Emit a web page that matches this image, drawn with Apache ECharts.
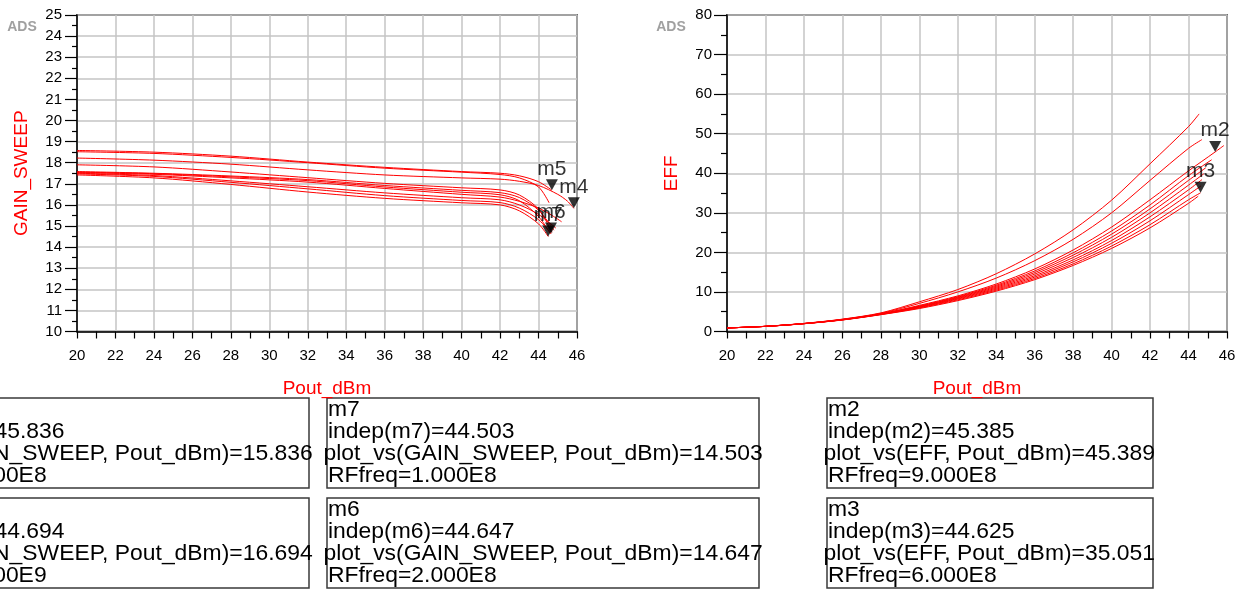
<!DOCTYPE html>
<html>
<head>
<meta charset="utf-8">
<script src="https://cdn.jsdelivr.net/npm/echarts@6/dist/echarts.min.js"></script>
<style>
  html, body { margin: 0; padding: 0; background: #fff; }
  #chart { width: 1249px; height: 591px; }
</style>
</head>
<body>
<div id="chart"></div>
<script>
// ---------- DATA ----------
const RF_FREQS = ['1.000E8','2.000E8','3.000E8','4.000E8','5.000E8','6.000E8','7.000E8','8.000E8','9.000E8','1.000E9'];

// GAIN_SWEEP vs Pout_dBm, one array of [Pout, gain] per RFfreq
const GAIN_1E8 = [[20,17.42],[24,17.28],[28,16.97],[32,16.61],[36,16.31],[40,16.1],[42,16.0],[43,15.72],[44,15.1],[44.503,14.503]];
const GAIN_2E8 = [[20,17.47],[24,17.35],[28,17.07],[32,16.76],[36,16.44],[40,16.21],[42,16.11],[43,15.85],[44,15.3],[44.647,14.647]];
const GAIN_3E8 = [[20,17.5],[24,17.39],[28,17.14],[32,16.86],[36,16.57],[40,16.34],[42,16.24],[43,16.0],[44,15.55],[44.9,14.9]];
const GAIN_4E8 = [[20,17.53],[24,17.45],[28,17.28],[32,17.08],[36,16.78],[40,16.5],[42,16.37],[43,16.17],[44,15.85],[44.7,15.5],[45.2,15.2]];
const GAIN_5E8 = [[20,17.58],[24,17.5],[28,17.37],[32,17.2],[36,16.92],[40,16.69],[42,16.58],[43,16.35],[44,15.75],[44.8,14.8]];
const GAIN_6E8 = [[20,17.55],[24,17.48],[28,17.33],[32,17.15],[36,16.85],[40,16.6],[42,16.48],[43,16.2],[44,15.45],[44.625,14.625]];
const GAIN_7E8 = [[20,17.9],[24,17.8],[28,17.56],[32,17.29],[36,17.02],[40,16.81],[42,16.71],[43,16.47],[44,15.8],[44.7,14.7]];
const GAIN_8E8 = [[20,18.52],[24,18.44],[28,18.25],[32,18.0],[36,17.74],[40,17.55],[42,17.44],[43,17.28],[44,16.85],[44.55,16.1]];
const GAIN_9E8 = [[20,18.22],[24,18.12],[28,17.93],[32,17.66],[36,17.42],[40,17.28],[42,17.22],[43,17.12],[44,16.92],[45,16.5],[45.5,16.18],[45.836,15.836]];
const GAIN_1E9 = [[20,18.58],[24,18.5],[28,18.31],[32,18.03],[36,17.78],[40,17.58],[42,17.5],[43,17.38],[44,17.1],[44.694,16.694]];

// EFF vs Pout_dBm
const EFF_1E8 = [[20,0.9],[22,1.29],[24,1.96],[26,2.9],[28,4.25],[30,5.8],[32,7.8],[34,10.2],[36,13.1],[38,16.7],[40,21.0],[42,26.2],[44,32.4],[44.503,34.2]];
const EFF_2E8 = [[20,0.9],[22,1.3],[24,1.98],[26,2.95],[28,4.33],[30,6.05],[32,8.2],[34,10.7],[36,13.75],[38,17.6],[40,22.3],[42,28.0],[44,34.6],[44.647,36.8]];
const EFF_3E8 = [[20,0.9],[22,1.3],[24,2.0],[26,3.0],[28,4.42],[30,6.35],[32,8.65],[34,11.45],[36,14.9],[38,19.3],[40,24.6],[42,31.0],[44,38.2],[44.9,41.4]];
const EFF_4E8 = [[20,0.9],[22,1.3],[24,2.0],[26,3.0],[28,4.45],[30,6.45],[32,8.8],[34,11.7],[36,15.3],[38,19.9],[40,25.4],[42,32.0],[44,39.4],[45.2,43.4]];
const EFF_5E8 = [[20,0.9],[22,1.3],[24,2.0],[26,2.98],[28,4.4],[30,6.25],[32,8.5],[34,11.2],[36,14.5],[38,18.7],[40,23.8],[42,30.0],[44,37.0],[44.8,39.9]];
const EFF_6E8 = [[20,0.9],[22,1.29],[24,1.97],[26,2.93],[28,4.29],[30,5.95],[32,8.0],[34,10.45],[36,13.4],[38,17.1],[40,21.6],[42,27.0],[44,33.3],[44.625,35.051]];
const EFF_7E8 = [[20,0.9],[22,1.3],[24,1.99],[26,2.97],[28,4.37],[30,6.15],[32,8.35],[34,10.95],[36,14.1],[38,18.1],[40,23.0],[42,29.0],[44,35.8],[44.7,38.4]];
const EFF_8E8 = [[20,0.9],[22,1.32],[24,2.05],[26,3.12],[28,4.7],[30,7.5],[32,10.6],[34,14.6],[36,19.6],[38,25.7],[40,33.2],[42,42.4],[44,51.8],[44.55,55.0]];
const EFF_9E8 = [[20,0.9],[22,1.3],[24,2.0],[26,3.03],[28,4.5],[30,6.6],[32,9.0],[34,12.0],[36,15.8],[38,20.6],[40,26.4],[42,33.3],[44,40.6],[45.385,45.389],[45.836,47.0]];
const EFF_1E9 = [[20,0.9],[22,1.31],[24,2.03],[26,3.08],[28,4.6],[30,7.1],[32,10.0],[34,13.5],[36,17.9],[38,23.3],[40,30.0],[42,38.2],[44,46.3],[44.694,48.5]];

const GAIN_SERIES = [GAIN_1E8, GAIN_2E8, GAIN_3E8, GAIN_4E8, GAIN_5E8, GAIN_6E8, GAIN_7E8, GAIN_8E8, GAIN_9E8, GAIN_1E9];
const EFF_SERIES = [EFF_1E8, EFF_2E8, EFF_3E8, EFF_4E8, EFF_5E8, EFF_6E8, EFF_7E8, EFF_8E8, EFF_9E8, EFF_1E9];

// markers
const GAIN_MARKER_NAMES = ['m4', 'm5', 'm7', 'm6'];
const GAIN_MARKER_POUT = [45.836, 44.694, 44.503, 44.647];
const GAIN_MARKER_VALUE = [15.836, 16.694, 14.503, 14.647];
const GAIN_MARKER_FREQ = ['9.000E8', '1.000E9', '1.000E8', '2.000E8'];

const EFF_MARKER_NAMES = ['m2', 'm3'];
const EFF_MARKER_POUT = [45.385, 44.625];
const EFF_MARKER_VALUE = [45.389, 35.051];
const EFF_MARKER_FREQ = ['9.000E8', '6.000E8'];

const X_TICKS = { min: 20, max: 46, interval: 2 };
const GAIN_TICKS = { min: 10, max: 25, interval: 1 };
const EFF_TICKS = { min: 0, max: 80, interval: 10 };

// ---------- STYLE ----------
const FONT = '"Liberation Sans", Arial, sans-serif';
const RED = '#ff0000';

function xAxisOpt(gridIndex) {
  return {
    type: 'value', gridIndex,
    min: X_TICKS.min, max: X_TICKS.max, interval: X_TICKS.interval,
    name: 'Pout_dBm', nameLocation: 'middle', nameGap: 48,
    nameTextStyle: { color: RED, fontSize: 19, fontFamily: FONT },
    axisLine: { show: true, onZero: false, lineStyle: { color: '#000', width: 1.5 } },
    axisTick: { show: true, length: 7, lineStyle: { color: '#000', width: 1.2 } },
    minorTick: { show: true, splitNumber: 2, length: 7, lineStyle: { color: '#000', width: 1.2 } },
    minorSplitLine: { show: false },
    splitLine: { show: true, lineStyle: { color: '#c4c4c4', width: 1.5 } },
    axisLabel: { color: '#000', fontSize: 15, fontFamily: FONT, margin: 17 }
  };
}
function yAxisOpt(gridIndex, ticks, name, majLen, minLen) {
  return {
    type: 'value', gridIndex,
    min: ticks.min, max: ticks.max, interval: ticks.interval,
    name, nameLocation: 'middle', nameGap: 46,
    nameTextStyle: { color: RED, fontSize: 19, fontFamily: FONT },
    axisLine: { show: true, onZero: false, lineStyle: { color: '#000', width: 1.5 } },
    axisTick: { show: true, length: majLen, lineStyle: { color: '#000', width: 1.2 } },
    minorTick: { show: true, splitNumber: 2, length: minLen, lineStyle: { color: '#000', width: 1.2 } },
    minorSplitLine: { show: false },
    splitLine: { show: true, lineStyle: { color: '#c4c4c4', width: 1.5 } },
    axisLabel: { color: '#000', fontSize: 15, fontFamily: FONT, margin: 15 }
  };
}

const series = [];
GAIN_SERIES.forEach((d, i) => series.push({
  type: 'line', name: 'GAIN ' + RF_FREQS[i], xAxisIndex: 0, yAxisIndex: 0, data: d,
  showSymbol: false, smooth: 0.3, z: 3,
  lineStyle: { color: RED, width: 1 }
}));
EFF_SERIES.forEach((d, i) => series.push({
  type: 'line', name: 'EFF ' + RF_FREQS[i], xAxisIndex: 1, yAxisIndex: 1, data: d,
  showSymbol: false, smooth: 0.3, z: 3,
  lineStyle: { color: RED, width: 1 }
}));

function markerSeries(xi, names, pout, vals) {
  return {
    type: 'scatter', xAxisIndex: xi, yAxisIndex: xi, z: 10,
    symbol: 'triangle', symbolRotate: 180, symbolSize: [12, 11], symbolOffset: [0, -5.5],
    itemStyle: { color: '#000' },
    label: { show: true, position: 'top', distance: 0, formatter: p => p.name,
             color: '#000', fontSize: 21, fontFamily: FONT },
    data: names.map((n, i) => ({ name: n, value: [pout[i], vals[i]] }))
  };
}
series.push(markerSeries(0, GAIN_MARKER_NAMES, GAIN_MARKER_POUT, GAIN_MARKER_VALUE));
series.push(markerSeries(1, EFF_MARKER_NAMES, EFF_MARKER_POUT, EFF_MARKER_VALUE));

// ---------- marker readout boxes ----------
const BOX_FONT = '22.9px ' + FONT;
const graphics = [];
function addBox(left, top, width, name, indep, expr, val, freq) {
  graphics.push({ type: 'rect', shape: { x: left, y: top, width, height: 90 },
    style: { fill: 'none', stroke: '#3a3a3a', lineWidth: 1.5 } });
  const lines = [name, 'indep(' + name + ')=' + indep.toFixed(3),
    'plot_vs(' + expr + ', Pout_dBm)=' + val.toFixed(3), 'RFfreq=' + freq];
  lines.forEach((t, k) => graphics.push({ type: 'text', x: left + (k === 2 ? -3.5 : 1), y: top + 12 + 22 * k,
    style: { text: t, font: BOX_FONT, fill: '#000', align: 'left', verticalAlign: 'middle' } }));
}
const BOX_COLS = [-123, 327];
const BOX_ROWS = [398, 498];
const gainBoxCols = [0, 0, 1, 1], gainBoxRows = [0, 1, 0, 1];
GAIN_MARKER_NAMES.forEach((n, i) => addBox(BOX_COLS[gainBoxCols[i]], BOX_ROWS[gainBoxRows[i]], 432,
  n, GAIN_MARKER_POUT[i], 'GAIN_SWEEP', GAIN_MARKER_VALUE[i], GAIN_MARKER_FREQ[i]));
EFF_MARKER_NAMES.forEach((n, i) => addBox(827, BOX_ROWS[i], 326,
  n, EFF_MARKER_POUT[i], 'EFF', EFF_MARKER_VALUE[i], EFF_MARKER_FREQ[i]));

[[22, 27], [671, 27]].forEach(([x, y]) => graphics.push({ type: 'text', x, y,
  style: { text: 'ADS', font: 'bold 14px ' + FONT, fill: '#a0a0a0', align: 'center', verticalAlign: 'middle',
           shadowColor: 'rgba(0,0,0,0.3)', shadowBlur: 2, shadowOffsetX: 1, shadowOffsetY: 1 } }));

const chart = echarts.init(document.getElementById('chart'), null, { renderer: 'canvas' });
chart.setOption({
  backgroundColor: '#fff',
  animation: false,
  grid: [
    { left: 77, top: 15, width: 500, height: 316.5, show: true, borderColor: '#000', borderWidth: 1.5, backgroundColor: '#fff' },
    { left: 727, top: 15, width: 500, height: 316.5, show: true, borderColor: '#000', borderWidth: 1.5, backgroundColor: '#fff' }
  ],
  xAxis: [xAxisOpt(0), xAxisOpt(1)],
  yAxis: [yAxisOpt(0, GAIN_TICKS, 'GAIN_SWEEP', 12, 5), yAxisOpt(1, EFF_TICKS, 'EFF', 13, 6)],
  series,
  graphic: graphics
});
</script>
</body>
</html>
